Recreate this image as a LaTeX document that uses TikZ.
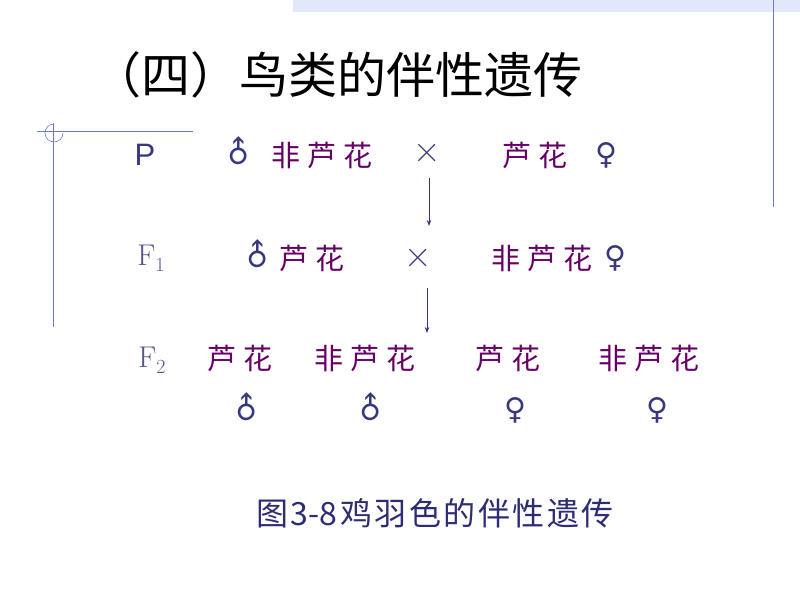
\documentclass[tikz,border=0pt]{standalone}
\usepackage{fontspec}
\usepackage{xcolor}
\usetikzlibrary{arrows.meta}
\newfontfamily\cjk{Noto Sans CJK SC}
\newfontfamily\symf{DejaVu Sans}
\newfontfamily\arialf{Liberation Sans}
\definecolor{plum}{RGB}{102,0,102}
\definecolor{navy}{RGB}{55,55,125}
\definecolor{fgrey}{RGB}{85,85,140}
\definecolor{capnavy}{RGB}{45,45,115}
\definecolor{deco}{RGB}{105,125,195}
\definecolor{band}{RGB}{226,231,250}
\newcommand{\gp}{\kern7pt}
\newcommand{\cg}{\kern2.5pt}

\begin{document}
\begin{tikzpicture}[x=1pt,y=-1pt,
	breed/.style={text=plum,font=\cjk\fontsize{29}{29}\selectfont,inner sep=0},
	sex/.style={text=navy,font=\symf\fontsize{30}{30}\selectfont,inner sep=0},
	gen/.style={text=fgrey,font=\fontsize{30}{30}\selectfont,inner sep=0},
	cross/.style={text=navy,font=\fontsize{38}{38}\selectfont,inner sep=0},
	arr/.style={navy,line width=0.8pt,-{Stealth[length=6pt,width=4.5pt]}}]
	\useasboundingbox (0,0) rectangle (800,600);
	% slide frame
	\fill[band] (293,0) rectangle (800,12);
	\draw[deco,line width=0.8pt] (773,0) -- (773,207);
	\draw[deco,line width=0.8pt] (37,131) -- (193,131);
	\draw[deco,line width=0.8pt] (53,123) -- (53,327);
	\draw[deco,line width=0.6pt] (63,133) arc[start angle=0,end angle=270,radius=9];

	\node[font=\cjk\fontsize{49}{49}\selectfont,inner sep=0] (title) at (337,75) {（四）鸟类的伴性遗传};

	% P
	\node[gen,text=navy,font=\arialf\fontsize{31}{31}\selectfont] (p) at (145,155) {P};
	\node[sex,rotate=45] (pm) at (239,152) {♂};
	\node[breed] (pmname) at (322,155) {非\gp 芦\gp 花};
	\node[cross] (x1) at (427,153) {×};
	\node[breed] (pfname) at (535,155) {芦\gp 花};
	\node[sex] (pf) at (606,155) {♀};
	\coordinate (a1) at (429,178);
	\coordinate (b1) at (429,226);
	\draw[arr] (a1) -- (b1);

	% F1
	\node[gen] (f1) at (151,258) {F\raisebox{-6pt}{\fontsize{20}{20}\selectfont 1}};
	\node[sex,rotate=45] (f1m) at (258,255) {♂};
	\node[breed] (f1mname) at (312,258) {芦\gp 花};
	\node[cross] (x2) at (418,258) {×};
	\node[breed] (f1fname) at (542,258) {非\gp 芦\gp 花};
	\node[sex] (f1f) at (615,258) {♀};
	\coordinate (a2) at (427,288);
	\coordinate (b2) at (427,333);
	\draw[arr] (a2) -- (b2);

	% F2
	\node[gen] (f2) at (152,360) {F\raisebox{-6pt}{\fontsize{20}{20}\selectfont 2}};
	\node[breed] (c1) at (240,358) {芦\gp 花};
	\node[breed] (c2) at (365,358) {非\gp 芦\gp 花};
	\node[breed] (c3) at (508,358) {芦\gp 花};
	\node[breed] (c4) at (649,358) {非\gp 芦\gp 花};
	\node[sex,rotate=45] (s1) at (247,408) {♂};
	\node[sex,rotate=45] (s2) at (371,408) {♂};
	\node[sex] (s3) at (515,410) {♀};
	\node[sex] (s4) at (657,410) {♀};

	\node[font=\cjk\fontsize{32}{32}\selectfont,text=capnavy,inner sep=0] (cap) at (435,513)
		{图\cg 3-8\cg 鸡\cg 羽\cg 色\cg 的\cg 伴\cg 性\cg 遗\cg 传};
\end{tikzpicture}
\end{document}
